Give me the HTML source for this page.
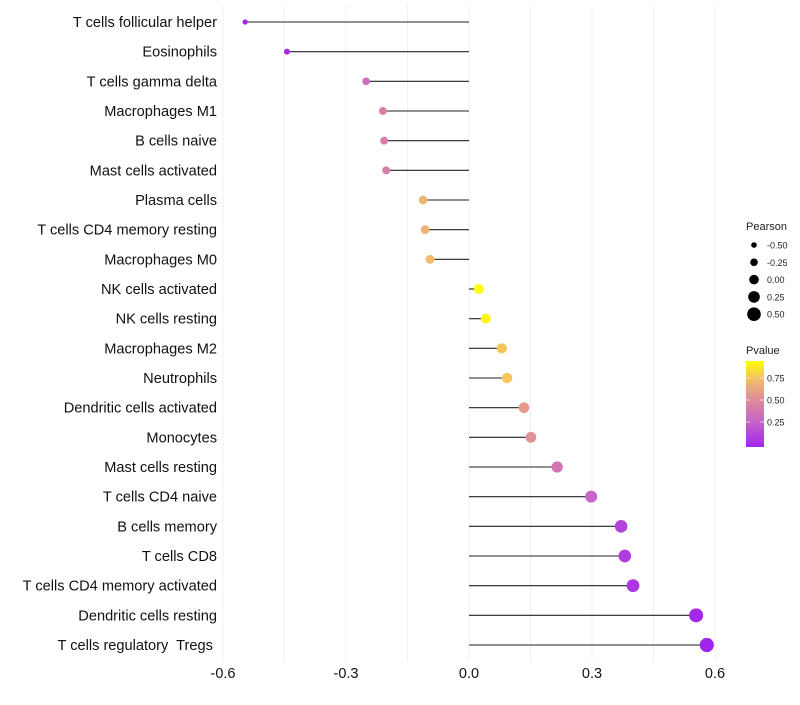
<!DOCTYPE html>
<html><head><meta charset="utf-8"><style>
body{margin:0;background:#fff;font-family:"Liberation Sans",sans-serif}
text{white-space:pre}
</style></head><body>
<svg id="c" width="800" height="700" xmlns="http://www.w3.org/2000/svg"></svg>
<script>
const cells=["T cells follicular helper","Eosinophils","T cells gamma delta","Macrophages M1","B cells naive","Mast cells activated","Plasma cells","T cells CD4 memory resting","Macrophages M0","NK cells activated","NK cells resting","Macrophages M2","Neutrophils","Dendritic cells activated","Monocytes","Mast cells resting","T cells CD4 naive","B cells memory","T cells CD8","T cells CD4 memory activated","Dendritic cells resting","T cells regulatory  Tregs "];
const pearson=[-0.546,-0.444,-0.251,-0.21,-0.207,-0.202,-0.112,-0.107,-0.095,0.024,0.041,0.080,0.093,0.134,0.151,0.215,0.298,0.371,0.380,0.400,0.554,0.580];
const pvalue=[0.02,0.05,0.35,0.45,0.45,0.47,0.72,0.72,0.74,0.95,0.93,0.78,0.78,0.6,0.55,0.4,0.3,0.15,0.12,0.1,0.03,0.02];
const xTicks=[-0.6,-0.3,0.0,0.3,0.6];
const xTickLabels=["-0.6","-0.3","0.0","0.3","0.6"];
const sizeLegend=[-0.5,-0.25,0,0.25,0.5];
const sizeLegendLabels=["-0.50","-0.25","0.00","0.25","0.50"];
const pLegend=[0.75,0.5,0.25];
const pLegendLabels=["0.75","0.50","0.25"];

const svg=document.getElementById('c');const NS="http://www.w3.org/2000/svg";
function mk(t,a,p){const e=document.createElementNS(NS,t);for(const k in a)e.setAttribute(k,a[k]);(p||svg).appendChild(e);return e;}
const x=v=>469+v*410;
const y=i=>22+i*(623/21);
const r=p=>4.8+4*p;
const stops=[[0,[160,32,240]],[0.3,[200,101,200]],[0.5,[219,133,160]],[0.75,[242,188,108]],[0.95,[255,255,0]],[1,[255,255,0]]];
function col(p){for(let i=1;i<stops.length;i++){if(p<=stops[i][0]){const a=stops[i-1],b=stops[i];const t=(p-a[0])/(b[0]-a[0]);return 'rgb('+a[1].map((c,j)=>Math.round(c+(b[1][j]-c)*t)).join(',')+')';}}return 'rgb(255,255,0)';}
[-0.6,-0.45,-0.3,-0.15,0,0.15,0.3,0.45,0.6].forEach(v=>{const g=mk('line',{x1:x(v),x2:x(v),y1:5,y2:662,stroke:'#f0f0f0','stroke-width':1});

});
xTicks.forEach((v,i)=>{const t=mk('text',{x:x(v),y:678,'text-anchor':'middle','font-size':14.5,fill:'#111'});t.textContent=xTickLabels[i];

});
cells.forEach((c,i)=>{
const t=mk('text',{x:217,y:y(i)+5,'text-anchor':'end','font-size':14.6,fill:'#111'});t.textContent=c;


const l=mk('line',{x1:x(0),x2:x(pearson[i]),y1:y(i),y2:y(i),stroke:'#222','stroke-width':1.1});


const d=mk('circle',{cx:x(pearson[i]),cy:y(i),r:r(pearson[i]),fill:col(pvalue[i])});


});
const st=mk('text',{x:746,y:230,'font-size':11,fill:'#222'});st.textContent='Pearson';


sizeLegend.forEach((v,i)=>{const cy=245+i*17.3;
const d=mk('circle',{cx:754,cy:cy,r:r(v),fill:'#000'});


const t=mk('text',{x:767,y:cy+3.5,'font-size':9,fill:'#222'});t.textContent=sizeLegendLabels[i];

});
const pt=mk('text',{x:746,y:354,'font-size':11,fill:'#222'});pt.textContent='Pvalue';


const defs=mk('defs',{});const lg=mk('linearGradient',{id:'g',x1:0,y1:1,x2:0,y2:0},defs);
for(let k=0;k<=10;k++){const p=0.02+k*0.093;mk('stop',{offset:k/10,'stop-color':col(p)},lg);}
const bar=mk('rect',{x:746,y:361,width:18,height:86,fill:'url(#g)'});


pLegend.forEach((v,i)=>{const yy=444-v*88;
mk('line',{x1:746,x2:750,y1:yy,y2:yy,stroke:'#fff','stroke-opacity':0.6});mk('line',{x1:760,x2:764,y1:yy,y2:yy,stroke:'#fff','stroke-opacity':0.6});
const t=mk('text',{x:767,y:yy+3.5,'font-size':9,fill:'#222'});t.textContent=pLegendLabels[i];

});
</script>
</body></html>
